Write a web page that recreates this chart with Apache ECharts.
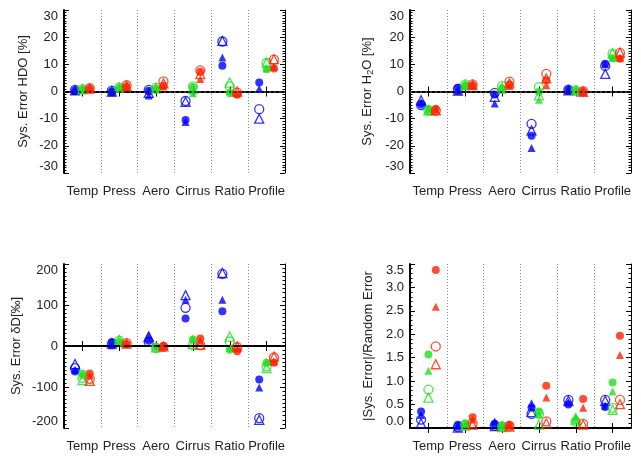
<!DOCTYPE html>
<html><head><meta charset="utf-8">
<script src="https://cdn.jsdelivr.net/npm/echarts@6/dist/echarts.min.js"></script>
<style>html,body{margin:0;padding:0;background:#fff}#c{width:641px;height:456px}</style>
</head><body><div id="c"></div><script>
const categories = ['Temp','Press','Aero','Cirrus','Ratio','Profile'];

// Panel 1: Sys. Error HDO [%]   (fc = filled circle, ft = filled triangle, oc = open circle, ot = open triangle)
const hdo_b_fc = [0.5, 0.1, 0.3, -10.5, 9.5, 3.3];
const hdo_b_ft = [0.2, -0.4, -1.5, -11.2, 12.5, 1.0];
const hdo_b_oc = [0.6, 0.3, 0.6, -3.5, 18.4, -6.5];
const hdo_b_ot = [0.4, 0.0, -0.5, -3.8, 18.6, -10.0];
const hdo_g_fc = [0.7, 1.3, 1.1, 1.7, -0.6, 8.3];
const hdo_g_ft = [0.6, 1.1, 0.8, -0.6, 0.2, 8.5];
const hdo_g_oc = [0.9, 1.5, 1.4, 1.9, 1.9, 10.5];
const hdo_g_ot = [0.8, 1.4, 1.2, 0.9, 3.3, 10.7];
const hdo_r_fc = [1.0, 1.8, 2.1, 7.3, -1.2, 8.5];
const hdo_r_ft = [0.9, 1.6, 1.8, 4.6, -0.6, 9.1];
const hdo_r_oc = [1.2, 2.3, 3.7, 7.8, -0.4, 11.7];
const hdo_r_ot = [1.1, 2.0, 3.0, 6.4, 0.0, 11.9];

// Panel 2: Sys. Error H2O [%]
const h2o_b_fc = [-4.8, 1.4, -1.1, -16.3, 0.6, 10.2];
const h2o_b_ft = [-4.0, 0.1, -4.4, -20.8, 0.3, 10.0];
const h2o_b_oc = [-5.0, 1.0, -0.5, -11.9, 0.7, 9.4];
const h2o_b_ot = [-3.2, 0.3, -2.0, -14.3, 0.4, 6.5];
const h2o_g_fc = [-6.4, 2.3, 1.1, -0.1, 0.4, 12.2];
const h2o_g_ft = [-6.8, 2.0, 0.6, -3.0, 0.2, 12.4];
const h2o_g_oc = [-7.0, 2.6, 2.0, 1.6, 0.5, 13.9];
const h2o_g_ot = [-6.9, 2.4, 1.5, -1.4, 0.3, 14.0];
const h2o_r_fc = [-6.4, 2.3, 2.6, 4.1, 0.0, 12.1];
const h2o_r_ft = [-6.8, 2.1, 2.0, 2.3, -0.2, 12.4];
const h2o_r_oc = [-7.0, 2.6, 3.6, 6.5, 0.1, 14.2];
const h2o_r_ot = [-6.9, 2.4, 3.0, 4.8, -0.1, 14.3];

// Panel 3: Sys. Error dD [permil]
const dd_b_fc = [-62, 10, 13, 67, 85, -82];
const dd_b_ft = [-58, 2, 26, 113, 113, -101];
const dd_b_oc = [-54, 5, 10, 93, 176, -176];
const dd_b_ot = [-44, 6, 23, 124, 178, -180];
const dd_g_fc = [-67, 10, -2, 16, -9, -41];
const dd_g_ft = [-70, 8, -1, 18, -5, -39];
const dd_g_oc = [-78, 13, -5, 2, 11, -50];
const dd_g_ot = [-83, 15, -3, 5, 23, -54];
const dd_r_fc = [-67, 5, 0, 18, -13, -41];
const dd_r_ft = [-72, 4, -1, 13, -6, -37];
const dd_r_oc = [-80, 7, -2, 2, -3, -28];
const dd_r_ot = [-85, 6, -1, 3, -1, -26];

// Panel 4: |Sys. Error|/Random Error
const rr_b_fc = [0.35, 0.07, 0.09, 0.43, 0.50, 0.45];
const rr_b_ft = [0.28, 0.03, 0.14, 0.53, 0.55, 0.48];
const rr_b_oc = [0.18, 0.02, 0.05, 0.30, 0.60, 0.60];
const rr_b_ot = [0.10, 0.01, 0.04, 0.34, 0.58, 0.58];
const rr_g_fc = [1.57, 0.10, 0.06, 0.35, 0.16, 0.97];
const rr_g_ft = [1.22, 0.08, 0.04, 0.30, 0.25, 0.78];
const rr_g_oc = [0.82, 0.06, 0.03, 0.30, 0.13, 0.43];
const rr_g_ot = [0.65, 0.05, 0.02, 0.07, 0.18, 0.39];
const rr_r_fc = [3.37, 0.23, 0.07, 0.90, 0.62, 1.97];
const rr_r_ft = [2.59, 0.18, 0.05, 0.65, 0.43, 1.56];
const rr_r_oc = [1.74, 0.10, 0.04, 0.14, 0.09, 0.60];
const rr_r_ot = [1.36, 0.07, 0.03, 0.10, 0.07, 0.51];

const colorBlue = '#0000ff', colorGreen = '#22e022', colorRed = '#ff2200';
const xOffsets = {b: 0.3, g: 0.5, r: 0.7};
const FONT = 'Liberation Sans';
const TXT = '#222';

const panels = [
  {grid:{left:64, top:10, width:221, height:163}, min:-30, max:30, interval:10, minor:10, nameGap:34,
   name:'Sys. Error HDO [%]', zero:'dot',
   sets:{b:[hdo_b_fc,hdo_b_ft,hdo_b_oc,hdo_b_ot], g:[hdo_g_fc,hdo_g_ft,hdo_g_oc,hdo_g_ot], r:[hdo_r_fc,hdo_r_ft,hdo_r_oc,hdo_r_ot]}},
  {grid:{left:410, top:10, width:221, height:163}, min:-30, max:30, interval:10, minor:10, nameGap:35,
   name:'{a|Sys. Error H}{s|2}{a|O [%]}', zero:'dot',
   sets:{b:[h2o_b_fc,h2o_b_ft,h2o_b_oc,h2o_b_ot], g:[h2o_g_fc,h2o_g_ft,h2o_g_oc,h2o_g_ot], r:[h2o_r_fc,h2o_r_ft,h2o_r_oc,h2o_r_ot]}},
  {grid:{left:64, top:264, width:221, height:164}, min:-200, max:200, interval:100, minor:10, nameGap:41,
   name:'Sys. Error \u03b4D[\u2030]', zero:'dash',
   sets:{b:[dd_b_fc,dd_b_ft,dd_b_oc,dd_b_ot], g:[dd_g_fc,dd_g_ft,dd_g_oc,dd_g_ot], r:[dd_r_fc,dd_r_ft,dd_r_oc,dd_r_ot]}},
  {grid:{left:410, top:264, width:221, height:164}, min:0, max:3.5, interval:0.5, minor:5, nameGap:35,
   name:'|Sys. Error|/Random Error', zero:null, fmt:(v)=>v.toFixed(1),
   sets:{b:[rr_b_fc,rr_b_ft,rr_b_oc,rr_b_ot], g:[rr_g_fc,rr_g_ft,rr_g_oc,rr_g_ot], r:[rr_r_fc,rr_r_ft,rr_r_oc,rr_r_ot]}}
];

const grids = [], xAxes = [], yAxes = [], series = [];
const colorOf = {b:colorBlue, g:colorGreen, r:colorRed};
const symbols = ['circle','triangle','circle','triangle'];

panels.forEach((p, i) => {
  grids.push(Object.assign({containLabel:false}, p.grid));
  // bottom category axis (labels + ticks at centres)
  xAxes.push({gridIndex:i, type:'category', data:categories, position:'bottom', boundaryGap:true,
    axisLine:{show:true, lineStyle:{color:'#000', width:2}},
    axisTick:{show:true, inside:true, alignWithLabel:true, interval:0, length:5, lineStyle:{color:'#000', width:1}},
    axisLabel:{show:true, interval:0, margin:12, fontFamily:FONT, fontSize:13, color:TXT},
    splitLine:{show:false}});
  // top category axis (ticks only)
  xAxes.push({gridIndex:i, type:'category', data:categories, position:'top', boundaryGap:true,
    axisLine:{show:true, lineStyle:{color:'#000', width:1}},
    axisTick:{show:true, inside:true, alignWithLabel:true, interval:0, length:5, lineStyle:{color:'#000', width:1}},
    axisLabel:{show:false}, splitLine:{show:false}});
  // value axis for placing points + dotted category separators
  xAxes.push({gridIndex:i, type:'value', min:0, max:6, interval:1, position:'bottom',
    axisLine:{show:false}, axisTick:{show:false}, axisLabel:{show:false},
    splitLine:{show:true, showMinLine:false, showMaxLine:false, lineStyle:{color:'#888', width:1, type:[1,2]}}});
  const yBase = {gridIndex:i, type:'value', min:p.min, max:p.max, interval:p.interval,
    splitLine:{show:false}};
  yAxes.push(Object.assign({}, yBase, {position:'left',
    name:p.name, nameLocation:'middle', nameGap:p.nameGap,
    nameTextStyle:{fontFamily:FONT, fontSize:13, color:TXT,
      rich:{a:{fontFamily:FONT, fontSize:13, color:TXT}, s:{fontFamily:FONT, fontSize:9, color:TXT, verticalAlign:'bottom', padding:[6,0,0,0]}}},
    axisLine:{show:true, lineStyle:{color:'#000', width:2}},
    axisTick:{show:true, inside:true, length:5, lineStyle:{color:'#000', width:1}},
    minorTick:{show:true, splitNumber:p.minor, length:2.5, lineStyle:{color:'#000', width:1}},
    axisLabel:{show:true, margin:6, fontFamily:FONT, fontSize:13, color:TXT,
      verticalAlignMinLabel:'bottom', verticalAlignMaxLabel:'top',
      formatter: p.fmt ? p.fmt : (v)=>String(v)}}));
  yAxes.push(Object.assign({}, yBase, {position:'right',
    axisLine:{show:true, lineStyle:{color:'#000', width:1}},
    axisTick:{show:true, inside:true, length:5, lineStyle:{color:'#000', width:1}},
    minorTick:{show:true, splitNumber:p.minor, length:2.5, lineStyle:{color:'#000', width:1}},
    axisLabel:{show:false}}));

  let first = true;
  ['b','g','r'].forEach(c => {
    p.sets[c].forEach((vals, k) => {
      const open = k >= 2;
      const s = {type:'scatter', xAxisIndex:i*3+2, yAxisIndex:i*2,
        symbol:symbols[k], symbolSize: open ? 9 : 8,
        itemStyle: open ? {color:'rgba(0,0,0,0)', borderColor:colorOf[c], borderWidth:1.3}
                        : {color:colorOf[c], borderWidth:0},
        emphasis:{disabled:true}, silent:true, animation:false,
        data: vals.map((v, j) => [j + xOffsets[c], v])};
      if (first && p.zero) {
        s.markLine = {silent:true, symbol:'none', animation:false, label:{show:false},
          lineStyle: p.zero === 'dot' ? {color:'#333', width:2, type:[2,3]} : {color:'#000', width:2, type:[6,4]},
          data:[{yAxis:0}]};
      }
      first = false;
      series.push(s);
    });
  });
});

const chart = echarts.init(document.getElementById('c'), null, {renderer:'canvas'});
chart.setOption({animation:false, backgroundColor:'#fff', grid:grids, xAxis:xAxes, yAxis:yAxes, series:series});
</script></body></html>
